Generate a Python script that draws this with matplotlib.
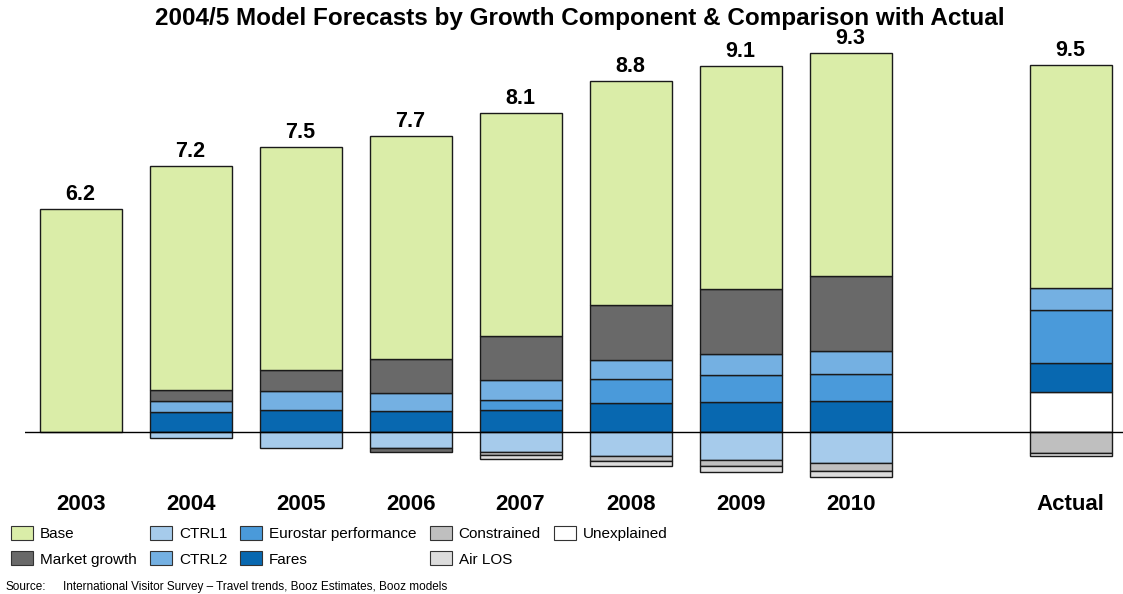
import numpy as np
import matplotlib.pyplot as plt
from matplotlib.patches import Patch

plt.rcParams['font.family'] = ['Liberation Sans', 'DejaVu Sans']

# visitor numbers (millions) split by growth component
years = ['2003', '2004', '2005', '2006', '2007', '2008', '2009', '2010', 'Actual']
positions = [0, 1, 2, 3, 4, 5, 6, 7, 9]

base = [6.2, 6.2, 6.2, 6.2, 6.2, 6.2, 6.2, 6.2, 6.2]
market_growth = [0, 0.31, 0.58, 0.94, 1.22, 1.53, 1.81, 2.08, 0]
market_growth_neg = [0, 0, 0, -0.11, 0, 0, 0, 0, 0]
ctrl1 = [0, -0.17, -0.44, -0.44, -0.56, -0.67, -0.78, -0.86, 0]
ctrl2 = [0, 0.31, 0.53, 0.50, 0.56, 0.53, 0.58, 0.64, 0.61]
eurostar = [0, 0, 0, 0, 0.28, 0.67, 0.75, 0.75, 1.47]
fares = [0, 0.56, 0.61, 0.58, 0.61, 0.81, 0.83, 0.86, 0.81]
constrained = [0, 0, 0, 0, -0.08, -0.14, -0.17, -0.22, -0.58]
air_los = [0, 0, 0, 0, -0.11, -0.14, -0.16, -0.17, -0.08]
unexplained = [0, 0, 0, 0, 0, 0, 0, 0, 1.11]

colors = {
    'Base': '#DAEDA8',
    'Market growth': '#696969',
    'CTRL1': '#A6CBEB',
    'CTRL2': '#74B0E2',
    'Eurostar performance': '#4A9ADA',
    'Fares': '#0868B0',
    'Constrained': '#BFBFBF',
    'Air LOS': '#DCDCDC',
    'Unexplained': '#FFFFFF',
}

# positive parts stack upward from zero, negative parts downward
positive = [('Unexplained', unexplained), ('Fares', fares),
            ('Eurostar performance', eurostar), ('CTRL2', ctrl2),
            ('Market growth', market_growth), ('Base', base)]
negative = [('CTRL1', ctrl1), ('Market growth', market_growth_neg),
            ('Constrained', constrained), ('Air LOS', air_los)]

fig = plt.figure(figsize=(11.23, 5.94), dpi=100)
ax = fig.add_axes([25 / 1123, 114 / 594, 1 - 25 / 1123, 440 / 594])

x = np.array(positions, dtype=float)
width = 0.745
bar_kw = dict(width=width, edgecolor='#1a1a1a', linewidth=1.0, zorder=2)

bottom = np.zeros(len(x))
for name, vals in positive:
    vals = np.array(vals)
    mask = vals > 0
    ax.bar(x[mask], vals[mask], bottom=bottom[mask], color=colors[name], **bar_kw)
    bottom += vals
top = bottom.copy()

bottom = np.zeros(len(x))
for name, vals in negative:
    vals = np.array(vals)
    mask = vals < 0
    ax.bar(x[mask], vals[mask], bottom=bottom[mask], color=colors[name], **bar_kw)
    bottom += vals

totals = top + bottom
for xi, t, tot in zip(x, top, totals):
    ax.annotate(f'{tot:.1f}', (xi, t), xytext=(0, 3), textcoords='offset points',
                ha='center', va='bottom', fontsize=15.5, fontweight='bold')

ax.axhline(0, color='black', linewidth=1.0, zorder=3)

ax.set_xlim(-0.505, 9.477)
ax.set_ylim(-48 / 36, 392 / 36)
ax.set_xticks(x)
ax.set_xticklabels(years, fontsize=16, fontweight='bold')
ax.tick_params(axis='x', length=0, pad=10)
ax.set_yticks([])
for s in ax.spines.values():
    s.set_visible(False)

fig.text(580 / 1123, 1 - 18 / 594,
         '2004/5 Model Forecasts by Growth Component & Comparison with Actual',
         ha='center', va='center', fontsize=17.5, fontweight='bold')

order = ['Base', 'Market growth', 'CTRL1', 'CTRL2', 'Eurostar performance',
         'Fares', 'Constrained', 'Air LOS', 'Unexplained']
handles = [Patch(facecolor=colors[n], edgecolor='#333333', linewidth=0.8, label=n)
           for n in order]
fig.legend(handles=handles, ncol=5, loc='upper left',
           bbox_to_anchor=(11 / 1123, 1 - 526 / 594), frameon=False,
           fontsize=11, handlelength=1.44, handleheight=1.05,
           handletextpad=0.46, columnspacing=0.85, labelspacing=0.65,
           borderpad=0, borderaxespad=0)

fig.text(6 / 1123, 1 - 587 / 594, 'Source:', ha='left', va='center', fontsize=8.5)
fig.text(63 / 1123, 1 - 587 / 594,
         'International Visitor Survey \u2013 Travel trends, Booz Estimates, Booz models',
         ha='left', va='center', fontsize=8.5)

fig.savefig('out.png', dpi=100)
